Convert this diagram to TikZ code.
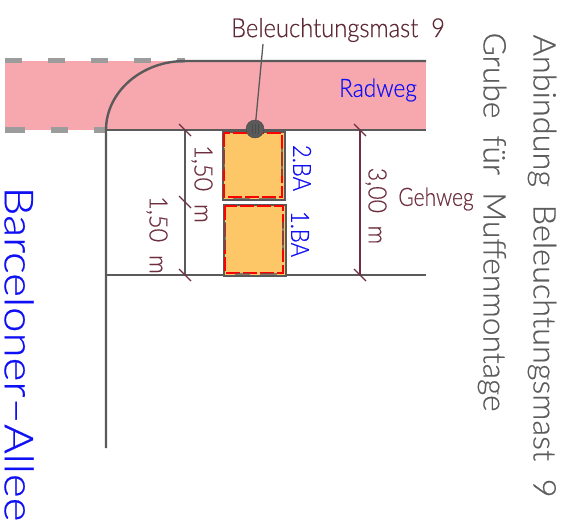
\documentclass[tikz,border=0pt]{standalone}
\usepackage{graphicx}
\usepackage{fontspec}
\setmainfont[FakeBold=0.5]{Lato Light}
\definecolor{pinkband}{HTML}{F7A8AE}
\definecolor{road}{HTML}{5A5A5A}
\definecolor{dashgrey}{HTML}{9C9C9C}
\definecolor{dimc}{HTML}{6E3040}
\definecolor{pit}{HTML}{FDC768}
\definecolor{bluet}{HTML}{1010F5}
\definecolor{greyt}{HTML}{5C5C5C}
\newcommand{\cad}[3]{\scalebox{#1}[#2]{#3}}
\tikzset{
  roadline/.style={draw=road,line width=2.4pt},
  edgedash/.style={draw=dashgrey,line width=5.5pt},
  dimline/.style={draw=dimc,line width=1.3pt},
  dimgrey/.style={draw=road,line width=1.3pt},
  pitbox/.style={fill=pit,draw=road,line width=1.6pt,minimum width=62pt,inner sep=0pt,anchor=north west},
  pitred/.style={draw=red,line width=2pt,dash pattern=on 14pt off 3pt},
  pitgrey/.style={draw=road,line width=1.8pt,opacity=.7},
  lbl/.style={inner sep=0pt,font=\fontsize{#1}{#1}\selectfont},
  rot/.style={rotate=-90,anchor=center},
}
\begin{document}
\begin{tikzpicture}[x=1pt,y=-1pt]
\useasboundingbox (0,0) rectangle (574,528);
\fill[pinkband] (5,61) rectangle (426,130);
\foreach \a/\b in {5/22,48/65,91/108,134/151,177/185}{\draw[edgedash] (\a,60.5)--(\b,60.5);}
\foreach \a/\b in {5/25,51/68,94/106}{\draw[edgedash] (\a,130)--(\b,130);}
\coordinate (rs) at (106,448);
\coordinate (rc) at (106,130);
\coordinate (rt) at (185,61);
\coordinate (re1) at (426,61);
\coordinate (re2) at (426,130);
\coordinate (bl) at (106,275);
\coordinate (br) at (426,275);
\draw[roadline] (rs)--(rc) .. controls (106,92) and (141.5,61) .. (rt)--(re1);
\draw[roadline] (rc)--(re2);
\draw[roadline] (bl)--(br);
\coordinate (d1) at (185,130);
\coordinate (d2) at (185,202);
\coordinate (d3) at (185,275);
\coordinate (d4) at (360,130);
\coordinate (d5) at (360,275);
\draw[dimgrey] (d1)--(d3);
\draw[dimline] (d4)--(d5);
\foreach \c in {d1,d2,d3,d4,d5}{\draw[dimline] ([shift={(-6,-6)}]\c)--([shift={(6,6)}]\c);}
\node[pitbox,minimum height=68pt] (p2) at (222,131) {};
\node[pitbox,minimum height=71pt] (p1) at (223,204) {};
\draw[pitred] (p2.north west)++(2,2) rectangle ++(58,64);
\draw[pitred] (p1.north west)++(2,2) rectangle ++(58,67);
\draw[pitgrey] (224,148)--(224,170) (282,148)--(282,176) (233,199)--(250,199) (259,199)--(276,199);
\draw[pitgrey] (225,222)--(225,250) (283,222)--(283,250) (235,274)--(250,274) (260,274)--(277,274);
\node[circle,fill=road,draw=road!80!black,minimum size=18pt,inner sep=0pt] (mast) at (255,129) {};
\draw[black!70,line width=.6pt] (252,124)--(252,134) (255,124)--(255,134) (258,124)--(258,134);
\node[lbl=21,text=dimc!85!black] (t1) at (338,30) {\cad{1.13}{1.25}{Beleuchtungsmast\ \ 9}};
\draw[dimgrey] (263,44)--(mast);
\node[lbl=21,text=bluet] (t2) at (378,90) {\cad{1.08}{1.2}{Radweg}};
\node[lbl=21,text=dimc] (t3) at (436,199) {\cad{1}{1.2}{Gehweg}};
\node[lbl=21,text=bluet,rot] (t4) at (302,168) {\cad{1.05}{1.2}{2.BA}};
\node[lbl=21,text=bluet,rot] (t5) at (300,234) {\cad{1.05}{1.2}{1.BA}};
\node[lbl=21,text=dimc,rot] (t6) at (202,184) {\cad{1.12}{1.2}{1,50\ \ m}};
\node[lbl=21,text=dimc,rot] (t7) at (157,235) {\cad{1.12}{1.2}{1,50\ \ m}};
\node[lbl=21,text=dimc,rot] (t8) at (376,206) {\cad{1.1}{1.2}{3,00\ \ m}};
\node[lbl=25,text=greyt,rot] (t9) at (542,266) {\cad{1.3}{1.25}{Anbindung\ \ Beleuchtungsmast\ \ 9}};
\node[lbl=25,text=greyt,rot] (t10) at (492,222) {\cad{1.27}{1.25}{Grube\ \ für\ \ Muffenmontage}};
\node[lbl=40,text=bluet,rot] (t11) at (19,354) {\cad{1.14}{1}{Barceloner--Allee}};
\end{tikzpicture}
\end{document}
